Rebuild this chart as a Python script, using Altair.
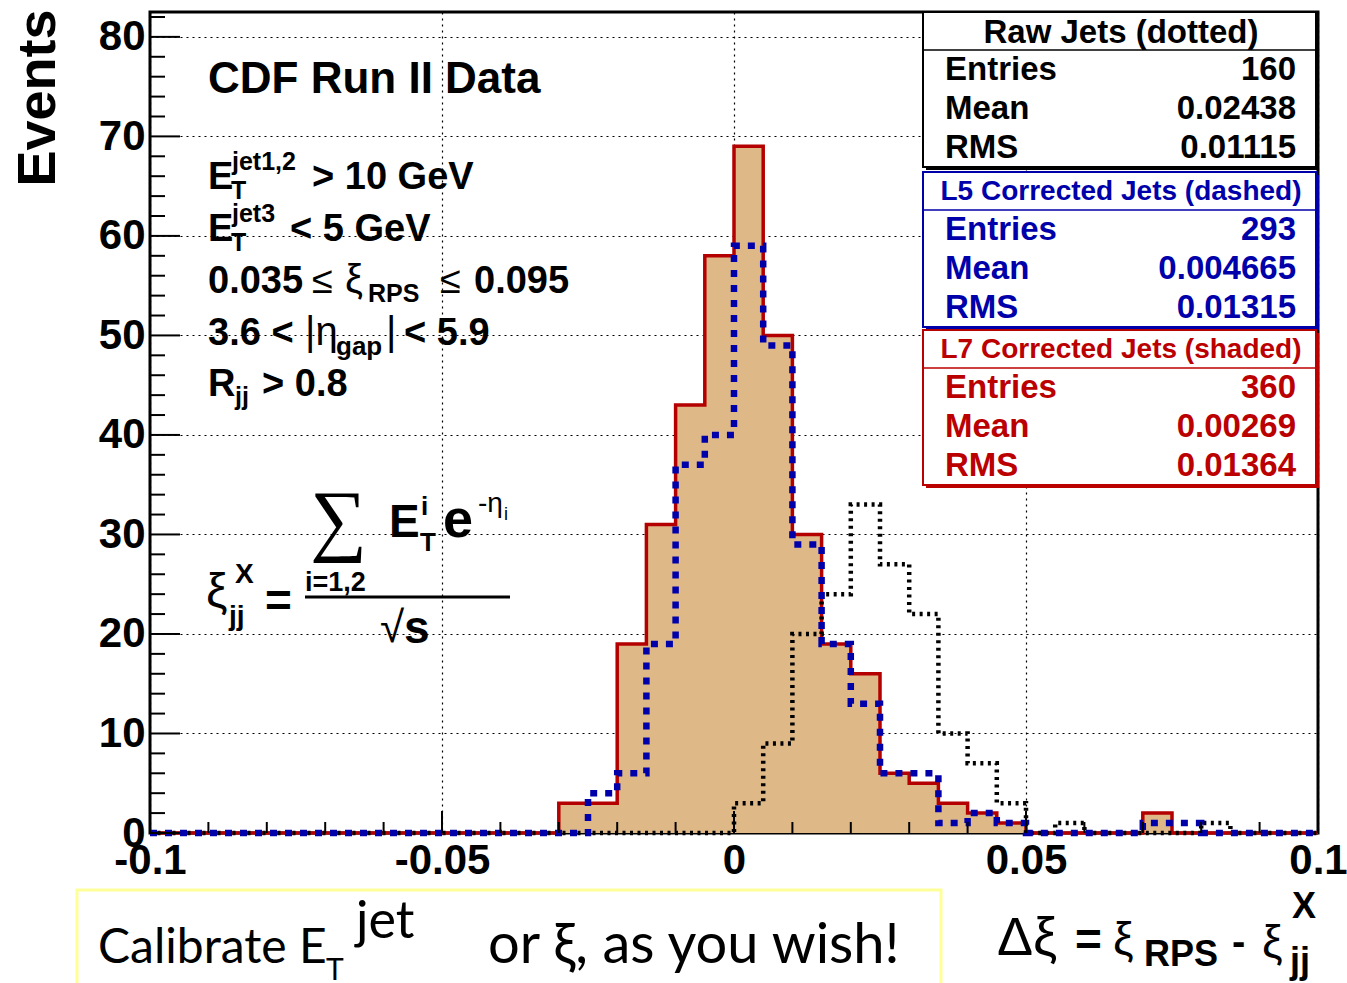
import altair as alt
import pandas as pd

# ---------------------------------------------------------------------------
# Δξ = ξ_RPS − ξ_jj^X, 40 bins of width 0.005 between -0.1 and 0.1
# ---------------------------------------------------------------------------
bin_edges = [round(-0.1 + 0.005 * i, 3) for i in range(41)]

raw_jets = [0, 0, 0, 0, 0, 0, 0, 0, 0, 0,
            0, 0, 0, 0, 0, 0, 0, 0, 0, 0,
            3, 9, 20, 24, 33, 27, 22, 10, 7, 3,
            0, 1, 0, 0, 0, 0, 1, 0, 0, 0]
l5_jets = [0, 0, 0, 0, 0, 0, 0, 0, 0, 0,
           0, 0, 0, 0, 0, 4, 6, 19, 37, 40,
           59, 49, 29, 19, 13, 6, 6, 1, 2, 1,
           0, 0, 0, 0, 1, 1, 0, 0, 0, 0]
l7_jets = [0, 0, 0, 0, 0, 0, 0, 0, 0, 0,
           0, 0, 0, 0, 3, 3, 19, 31, 43, 58,
           69, 50, 30, 19, 16, 6, 5, 3, 2, 1,
           0, 0, 0, 0, 2, 0, 0, 0, 0, 0]

# axis ticks
x_label_values = [-0.1, -0.05, 0, 0.05, 0.1]
x_minor_values = [-0.09, -0.08, -0.07, -0.06, -0.04, -0.03, -0.02, -0.01,
                  0.01, 0.02, 0.03, 0.04, 0.06, 0.07, 0.08, 0.09]
y_label_values = [0, 10, 20, 30, 40, 50, 60, 70, 80]
y_minor_values = [2, 4, 6, 8, 12, 14, 16, 18, 22, 24, 26, 28, 32, 34, 36, 38,
                  42, 44, 46, 48, 52, 54, 56, 58, 62, 64, 66, 68, 72, 74, 76, 78, 82]

# statistics boxes
box_titles = ["Raw Jets (dotted)", "L5 Corrected Jets (dashed)", "L7 Corrected Jets (shaded)"]
box_colors = ["black", "#0000AA", "#BB0000"]
stat_names = ["Entries", "Mean", "RMS"]
stat_values = [["160", "0.02438", "0.01115"],
               ["293", "0.004665", "0.01315"],
               ["360", "0.00269", "0.01364"]]

# ---------------------------------------------------------------------------
L, T = 150, 12            # plot-area origin on the page
W, H = 1168, 821          # plot-area size
SANS = "Liberation Sans"
SERIF = "Liberation Serif"
HAND = "Lato"
RED = "#B40000"
BLUE = "#0000AA"
TAN = "#DEB887"

xscale = alt.Scale(domain=[-0.1, 0.1], nice=False, zero=False)
yscale = alt.Scale(domain=[0, 82.5], nice=False, zero=False)

x_axis = alt.Axis(values=x_label_values, labelExpr="'' + datum.value", title=None,
                  ticks=False, domain=False, grid=True, gridColor="black",
                  gridDash=[2, 4], gridWidth=1.2, gridOpacity=1,
                  labelFont=SANS, labelFontWeight="bold", labelFontSize=42,
                  labelColor="black", labelPadding=7, labelFlush=False,
                  labelOverlap=False)
y_axis = alt.Axis(values=y_label_values, title=None, ticks=False, domain=False,
                  grid=True, gridColor="black", gridDash=[2, 4], gridWidth=1.2,
                  gridOpacity=1, labelFont=SANS, labelFontWeight="bold",
                  labelFontSize=42, labelColor="black", labelPadding=5,
                  labelFlush=False, labelOverlap=False)


def steps(counts):
    return pd.DataFrame({"x": bin_edges, "n": counts + counts[-1:]})


def xy():
    return dict(x=alt.X("x:Q", scale=xscale, axis=x_axis),
                y=alt.Y("n:Q", scale=yscale, axis=y_axis))


fill = alt.Chart(steps(l7_jets)).mark_area(interpolate="step-after", color=TAN).encode(**xy())


def outline(counts, **style):
    return alt.Chart(steps(counts)).mark_line(interpolate="step-after", strokeCap="butt",
                                              strokeJoin="miter", **style).encode(**xy())


red_line = outline(l7_jets, color=RED, strokeWidth=3.5)
black_line = outline(raw_jets, color="black", strokeWidth=4.5, strokeDash=[3, 4.5])
blue_line = outline(l5_jets, color=BLUE, strokeWidth=6.5, strokeDash=[7, 8])


def y_ticks(values, length):
    return alt.Chart(pd.DataFrame({"v": values})).mark_rule(color="black", strokeWidth=2).encode(
        y=alt.Y("v:Q", scale=yscale, axis=y_axis), x=alt.value(0), x2=alt.value(length))


def x_ticks(values, length):
    return alt.Chart(pd.DataFrame({"v": values})).mark_rule(color="black", strokeWidth=2).encode(
        x=alt.X("v:Q", scale=xscale, axis=x_axis), y=alt.value(H), y2=alt.value(H - length))


def text_at(s, X, Y, size, color="black", weight="bold", font=SANS, align="left", angle=0):
    return alt.Chart(pd.DataFrame({"t": [s]})).mark_text(
        align=align, baseline="alphabetic", font=font, fontSize=size,
        fontWeight=weight, color=color, angle=angle,
    ).encode(x=alt.value(X - L), y=alt.value(Y - T), text="t:N")


def rect_at(X1, Y1, X2, Y2, **style):
    return alt.Chart(pd.DataFrame({"k": [0]})).mark_rect(**style).encode(
        x=alt.value(X1 - L), x2=alt.value(X2 - L), y=alt.value(Y1 - T), y2=alt.value(Y2 - T))


def hline(X1, X2, Y, color, width):
    return alt.Chart(pd.DataFrame({"k": [0]})).mark_rule(color=color, strokeWidth=width).encode(
        x=alt.value(X1 - L), x2=alt.value(X2 - L), y=alt.value(Y - T))


layers = [fill, red_line, black_line, blue_line,
          y_ticks(y_label_values, 30), y_ticks(y_minor_values, 15),
          x_ticks(x_label_values, 22), x_ticks(x_minor_values, 11)]

# statistics boxes
box_tops = [12, 172, 330]
for b in range(3):
    top = box_tops[b]
    col = box_colors[b]
    bottom = top + 155
    layers.append(rect_at(926, top + 3, 1319, bottom + 3, fill=col))
    layers.append(rect_at(923, top, 1316, bottom, fill="white", stroke=col, strokeWidth=2))
    layers.append(hline(923, 1316, top + 38, col, 1.5))
    title_size = 33 if b == 0 else 28
    layers.append(text_at(box_titles[b], 1121, top + (31 if b == 0 else 28), title_size,
                          color=col, align="center"))
    for r in range(3):
        base = top + 68 + 39 * r
        layers.append(text_at(stat_names[r], 945, base, 33, color=col))
        layers.append(text_at(stat_values[b][r], 1296, base, 33, color=col, align="right"))

# selection cuts
layers += [
    text_at("CDF Run II Data", 208, 93, 44),
    text_at("E", 208, 189, 38), text_at("jet1,2", 232, 170, 25), text_at("T", 231, 199, 25),
    text_at("> 10 GeV", 312, 189, 38),
    text_at("E", 208, 241, 38), text_at("jet3", 232, 222, 25), text_at("T", 231, 251, 25),
    text_at("< 5 GeV", 290, 241, 38),
    text_at("0.035", 208, 293, 38), text_at("≤", 312, 293, 38, weight="normal"),
    text_at("ξ", 345, 293, 40, weight="normal"), text_at("RPS", 368, 302, 25),
    text_at("≤", 440, 293, 38, weight="normal"), text_at("0.095", 474, 293, 38),
    text_at("3.6 <", 208, 345, 38), text_at("|η", 305, 345, 40, weight="normal"),
    text_at("gap", 336, 355, 26), text_at("|", 386, 345, 40, weight="normal"),
    text_at("< 5.9", 404, 345, 38),
    text_at("R", 208, 396, 38), text_at("jj", 235, 405, 25), text_at("> 0.8", 262, 396, 38),
]

# ξ_jj^X definition
layers += [
    text_at("∑", 310, 546, 80, weight="normal", font=SERIF),
    text_at("E", 389, 537, 46), text_at("i", 421, 515, 26), text_at("T", 420, 551, 26),
    text_at("e", 443, 537, 54),
    text_at("-η", 478, 512, 28, weight="normal"), text_at("i", 504, 520, 18, weight="normal"),
    text_at("ξ", 206, 607, 48, weight="normal"), text_at("X", 235, 583, 28),
    text_at("jj", 229, 625, 28),
    text_at("=", 265, 616, 46),
    text_at("i=1,2", 305, 591, 27),
    hline(305, 510, 597, "black", 3),
    text_at("√", 380, 642, 44, weight="normal"), text_at("s", 404, 643, 46),
]

# axis titles and note
layers += [
    text_at("Events", 55, 98, 54, angle=270, align="center"),
    text_at("Δξ", 997, 955, 54, weight="normal"), text_at("=", 1075, 955, 46),
    text_at("ξ", 1113, 955, 46, weight="normal"), text_at("RPS", 1144, 966, 36),
    text_at("-", 1232, 955, 40), text_at("ξ", 1262, 958, 46, weight="normal"),
    text_at("X", 1292, 918, 36), text_at("jj", 1290, 973, 36),
    rect_at(77, 890, 941, 1000, fill="white", stroke="#FFFF99", strokeWidth=3),
    text_at("Calibrate E", 98, 963, 48, weight="normal", font=HAND),
    text_at("T", 326, 980, 30, weight="normal", font=HAND),
    text_at("jet", 356, 938, 52, weight="normal", font=HAND),
    text_at("or ξ, as you wish!", 488, 963, 56, weight="normal", font=HAND),
]

chart = alt.layer(*layers).properties(
    width=W, height=H,
    padding={"left": L, "top": T, "right": 1347 - L - W, "bottom": 983 - T - H},
    autosize=alt.AutoSizeParams(type="none"),
).configure_view(stroke="black", strokeWidth=3)

chart.save("out.html", embed_options={"renderer": "svg", "actions": False})
